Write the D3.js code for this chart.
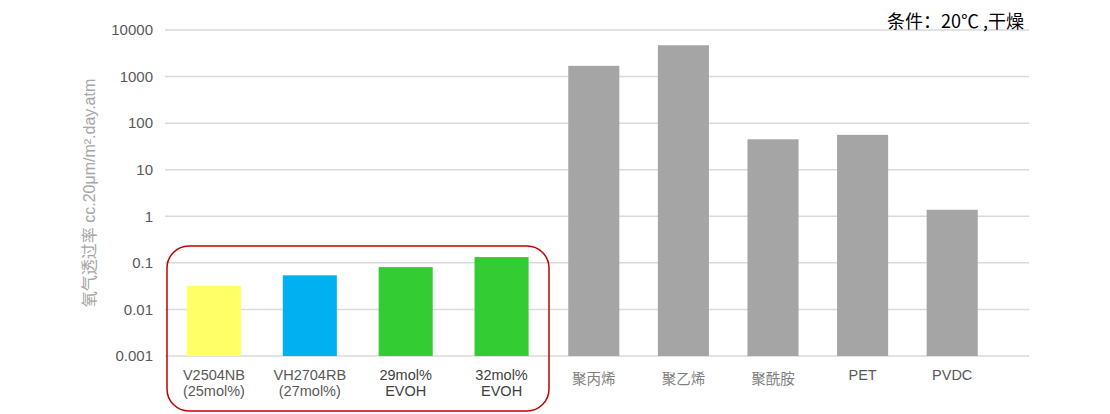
<!DOCTYPE html>
<html>
<head>
<meta charset="utf-8">
<script src="https://cdn.jsdelivr.net/npm/d3@7"></script>
<style>
  body { margin: 0; background: #fff; }
  text { font-family: "Liberation Sans", "Noto Sans CJK SC", sans-serif; }
</style>
</head>
<body>
<svg></svg>
<script>
// categories, two text lines each
var labels = [
  ["V2504NB", "(25mol%)"],
  ["VH2704RB", "(27mol%)"],
  ["29mol%", "EVOH"],
  ["32mol%", "EVOH"],
  ["聚丙烯"],
  ["聚乙烯"],
  ["聚酰胺"],
  ["PET"],
  ["PVDC"]
];
var values = [0.032, 0.054, 0.081, 0.133, 1700, 4700, 45, 56, 1.38];
var barColors = ["#ffff66", "#00b0f0", "#33cc33", "#33cc33", "#a5a5a5", "#a5a5a5", "#a5a5a5", "#a5a5a5", "#a5a5a5"];
var labelColors = ["#595959", "#595959", "#404040", "#404040", "#7f7f7f", "#7f7f7f", "#7f7f7f", "#595959", "#595959"];
var yTicks = [0.001, 0.01, 0.1, 1, 10, 100, 1000, 10000];
var yTickLabels = ["0.001", "0.01", "0.1", "1", "10", "100", "1000", "10000"];
var yTitle = "氧气透过率 cc.20μm/m².day.atm";
var note = "条件：20℃ ,干燥";

var screen = { width: 1110, height: 414 };

var svg = d3.select("svg")
            .attr("width", screen.width)
            .attr("height", screen.height);

var gridLeft = 165, gridRight = 1029;

// the EVOH group and the other films are spaced a little differently
var xLeft = d3.scaleBand()
              .domain([0, 1, 2, 3])
              .range([166, 549.5])
              .paddingInner(0.436)
              .paddingOuter(0.218);
var xRight = d3.scaleBand()
               .domain([4, 5, 6, 7, 8])
               .range([549, 997])
               .paddingInner(0.43)
               .paddingOuter(0.215);
var xPos = function(i) { return i < 4 ? xLeft(i) : xRight(i); };
var bw = function(i) { return i < 4 ? xLeft.bandwidth() : xRight.bandwidth(); };

var yScale = d3.scaleLog()
               .domain([0.001, 10000])
               .range([356, 30]);

// gridlines
svg.append("g")
   .selectAll("line")
   .data(yTicks)
   .enter()
   .append("line")
   .attr("x1", gridLeft)
   .attr("x2", gridRight)
   .attr("y1", function(d) { return yScale(d); })
   .attr("y2", function(d) { return yScale(d); })
   .attr("stroke", "#d9d9d9")
   .attr("stroke-width", 1.5);

// y axis labels
var yAxis = d3.axisLeft(yScale)
              .tickValues(yTicks)
              .tickFormat(function(d, i) { return yTickLabels[i]; })
              .tickSize(0)
              .tickPadding(0);

var yg = svg.append("g")
            .attr("transform", "translate(153,0)")
            .call(yAxis);
yg.select(".domain").remove();
yg.selectAll("text")
  .attr("font-size", 15)
  .attr("fill", "#595959")
  .style("font-family", "Liberation Sans, Arial, sans-serif");

// y title
svg.append("text")
   .attr("transform", "translate(95,193) rotate(-90)")
   .attr("text-anchor", "middle")
   .attr("font-size", 16)
   .attr("fill", "#a6a6a6")
   .text(yTitle);

// bars
svg.append("g")
   .selectAll("rect")
   .data(values)
   .enter()
   .append("rect")
   .attr("x", function(d, i) { return xPos(i); })
   .attr("y", function(d) { return yScale(d); })
   .attr("width", function(d, i) { return bw(i); })
   .attr("height", function(d) { return yScale(0.001) - yScale(d); })
   .attr("fill", function(d, i) { return barColors[i]; });

// x labels
var xl = svg.append("g")
            .selectAll("text")
            .data(labels)
            .enter()
            .append("text")
            .attr("x", function(d, i) { return xPos(i) + bw(i) / 2; })
            .attr("y", function(d, i) { return i >= 4 && i <= 6 ? 384 : 380; })
            .attr("text-anchor", "middle")
            .attr("font-size", 14.5)
            .attr("fill", function(d, i) { return labelColors[i]; });

xl.selectAll("tspan")
  .data(function(d) { return d; })
  .enter()
  .append("tspan")
  .attr("x", function() { return this.parentNode.getAttribute("x"); })
  .attr("dy", function(d, i) { return i === 0 ? 0 : 16; })
  .text(function(d) { return d; });

// red box round the EVOH group
svg.append("rect")
   .attr("x", 167)
   .attr("y", 246)
   .attr("width", 382)
   .attr("height", 165)
   .attr("rx", 22)
   .attr("fill", "none")
   .attr("stroke", "#c00000")
   .attr("stroke-width", 1.5);

// condition note
svg.append("text")
   .attr("x", 1024)
   .attr("y", 28)
   .attr("text-anchor", "end")
   .attr("font-size", 18)
   .attr("fill", "#000")
   .style("font-family", "Noto Sans CJK SC, sans-serif")
   .text(note);
</script>
</body>
</html>
